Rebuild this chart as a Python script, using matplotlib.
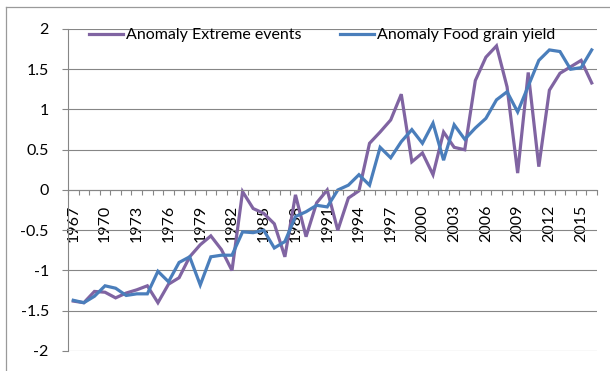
import matplotlib
matplotlib.use('Agg')
import numpy as np
import matplotlib.pyplot as plt
from matplotlib.lines import Line2D

years = list(range(1967, 2017))
extreme_events = [-1.38, -1.40, -1.26, -1.27, -1.34, -1.28, -1.24, -1.19, -1.40, -1.17,
                  -1.09, -0.83, -0.68, -0.57, -0.74, -1.00, -0.02, -0.23, -0.29, -0.42,
                  -0.83, -0.06, -0.58, -0.16, 0.00, -0.50, -0.10, -0.01, 0.58, 0.72,
                  0.87, 1.19, 0.35, 0.46, 0.19, 0.72, 0.53, 0.50, 1.36, 1.65,
                  1.79, 1.28, 0.21, 1.46, 0.29, 1.24, 1.45, 1.53, 1.61, 1.33]
food_grain = [-1.37, -1.40, -1.32, -1.19, -1.22, -1.31, -1.29, -1.29, -1.01, -1.14,
              -0.90, -0.83, -1.18, -0.83, -0.81, -0.81, -0.52, -0.53, -0.50, -0.72,
              -0.64, -0.33, -0.27, -0.19, -0.21, 0.00, 0.06, 0.19, 0.06, 0.53,
              0.40, 0.60, 0.75, 0.58, 0.83, 0.37, 0.81, 0.63, 0.77, 0.89,
              1.12, 1.22, 0.97, 1.29, 1.61, 1.74, 1.72, 1.50, 1.52, 1.74]
y_ticks = [2, 1.5, 1, 0.5, 0, -0.5, -1, -1.5, -2]

purple = '#8064A2'
blue = '#4A7EBB'
grey = '#868686'

plt.rcParams['font.family'] = ['Lato', 'DejaVu Sans']
plt.rcParams['font.size'] = 11.5
plt.rcParams['axes.unicode_minus'] = False

fig = plt.figure(figsize=(6.1, 3.71), dpi=100)
ax = fig.add_axes([68/610, 1-351/371, (597-68)/610, (351-29)/371])

ax.plot(years, extreme_events, color=purple, lw=2.3, label='Anomaly Extreme events', solid_joinstyle='miter')
ax.plot(years, food_grain, color=blue, lw=2.3, label='Anomaly Food grain yield', solid_joinstyle='miter')

ax.set_xlim(1966.5, 2016.5)
ax.set_ylim(-2, 2)
ax.set_yticks(y_ticks)
ax.set_yticklabels(['%g' % v for v in y_ticks])
ax.grid(axis='y', color=grey, lw=0.8)
ax.set_axisbelow(True)

# category axis sits on y = 0, ticks between categories, labels every 3rd year
ax.spines['bottom'].set_position(('data', 0))
ax.spines['bottom'].set_color(grey)
ax.spines['left'].set_color(grey)
ax.spines['top'].set_visible(False)
ax.spines['right'].set_visible(False)
ax.set_xticks(years[::3])
ax.set_xticklabels([str(y) for y in years[::3]], rotation=90)
ax.set_xticks(np.arange(1966.5, 2017, 1), minor=True)
ax.tick_params(axis='x', which='major', length=0, pad=10.5)
ax.tick_params(axis='x', which='minor', length=3.5, color=grey, width=0.8)
ax.tick_params(axis='y', length=4.3, color=grey, width=0.8, pad=9.5)

ax.legend(loc='upper left', bbox_to_anchor=(15/529, 1.022), ncol=2, frameon=False,
          handlelength=2.1, handletextpad=0.2, columnspacing=2.4, borderaxespad=0)

# outer chart frame
fig.add_artist(Line2D([6/610, 6/610], [0, 1-7/371], color='#9a9a9a', lw=0.9))
fig.add_artist(Line2D([6/610, 1], [1-7/371, 1-7/371], color='#9a9a9a', lw=0.9))

plt.savefig('out.png', dpi=100)
plt.close()
